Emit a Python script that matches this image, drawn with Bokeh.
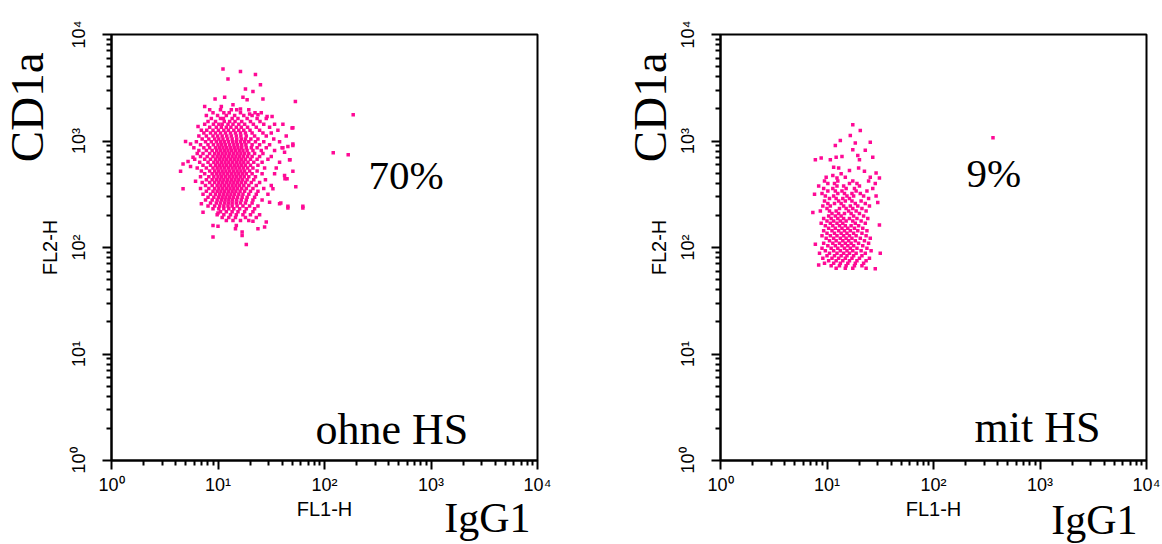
from bokeh.plotting import figure
from bokeh.layouts import row
from bokeh.models import FixedTicker, Label, Range1d, Title
from bokeh.embed import file_html
from bokeh.resources import INLINE

# ---------------- data (FACS 1024-channel, 4-decade log scale: value = 10**(ch/256)) -------------
decade_values = [1, 10, 100, 1000, 10000]
decade_labels = ["10⁰", "10¹", "10²", "10³", "10⁴"]

# "ohne HS" panel: scattered events (FL1-H channel, FL2-H channel)
ohne_sparse = [
    (268, 941), (310, 935), (346, 928), (280, 917), (358, 903), (322, 893), (340, 887), (249, 869),
    (272, 873), (316, 873), (326, 867), (364, 869), (442, 863), (224, 851), (264, 851), (292, 855),
    (310, 845), (332, 833), (352, 831), (374, 827), (386, 827), (412, 808), (434, 799), (208, 803),
    (178, 767), (190, 761), (196, 729), (184, 719), (172, 713), (166, 695), (190, 707), (436, 761),
    (424, 755), (416, 741), (428, 723), (436, 695), (416, 685), (422, 677), (172, 653), (202, 671),
    (460, 611), (424, 611), (404, 617), (388, 653), (380, 621), (220, 597), (256, 595), (216, 617),
    (244, 565), (256, 563), (298, 557), (314, 549), (324, 519), (314, 541), (352, 557), (368, 561),
    (372, 573), (340, 575), (244, 537), (300, 565), (581, 831), (533, 740), (569, 735), (460, 607),
    (436, 800), (436, 757), (412, 752), (429, 723), (417, 677), (443, 658), (407, 619), (424, 607),
]
# "ohne HS" panel: dense events grouped by FL2-H channel -> FL1-H channels
ohne_rows = [
    (843, [236, 262, 288, 301, 330]),
    (836, [244, 270, 283, 310, 345, 360]),
    (829, [228, 255, 276, 296, 318, 338]),
    (822, [240, 262, 269, 290, 304, 326, 350, 372]),
    (815, [232, 250, 271, 284, 297, 313, 334, 357]),
    (808, [224, 245, 258, 266, 280, 292, 306, 320, 341, 366, 392]),
    (801, [236, 252, 264, 276, 287, 300, 312, 327, 348, 380]),
    (794, [216, 229, 244, 257, 270, 281, 294, 306, 318, 333, 356, 400]),
    (787, [222, 238, 250, 262, 274, 286, 298, 310, 322, 338, 364, 384]),
    (780, [210, 228, 244, 255, 266, 277, 288, 300, 311, 324, 344, 372, 420]),
    (773, [218, 234, 248, 258, 268, 279, 290, 301, 312, 322, 335, 352, 390]),
    (766, [204, 226, 240, 252, 262, 271, 281, 291, 300, 310, 320, 330, 346, 366, 404]),
    (759, [214, 232, 245, 256, 265, 274, 284, 294, 303, 313, 323, 338, 356, 380]),
    (752, [198, 222, 236, 250, 259, 268, 277, 286, 295, 304, 313, 324, 336, 350, 372, 410]),
    (745, [210, 228, 242, 253, 262, 271, 280, 289, 298, 307, 316, 326, 340, 360, 392]),
    (738, [206, 220, 236, 248, 257, 266, 275, 284, 293, 302, 311, 320, 330, 344, 364]),
    (731, [214, 230, 244, 254, 263, 272, 281, 290, 299, 308, 317, 327, 338, 356, 384]),
    (724, [200, 224, 238, 250, 259, 268, 277, 286, 295, 304, 313, 322, 334, 350, 376]),
    (717, [212, 232, 246, 255, 264, 273, 282, 291, 300, 309, 318, 328, 342, 362, 404]),
    (710, [220, 238, 250, 259, 268, 277, 286, 295, 304, 313, 322, 334, 352]),
    (703, [206, 228, 244, 254, 263, 272, 281, 290, 299, 308, 317, 327, 340, 368, 396]),
    (696, [216, 236, 248, 257, 266, 275, 284, 293, 302, 311, 320, 332, 350]),
    (689, [224, 242, 252, 261, 270, 279, 288, 297, 306, 315, 324, 338, 362, 392]),
    (682, [214, 234, 246, 256, 265, 274, 283, 292, 301, 310, 319, 330, 346]),
    (675, [228, 242, 252, 261, 270, 279, 288, 297, 306, 315, 326, 342, 370]),
    (668, [218, 236, 248, 258, 267, 276, 285, 294, 303, 312, 322, 336, 356]),
    (661, [226, 242, 254, 263, 272, 281, 290, 299, 308, 318, 330, 348, 384]),
    (654, [214, 234, 248, 258, 267, 276, 285, 294, 303, 313, 324, 340, 366]),
    (647, [228, 244, 254, 263, 272, 281, 290, 299, 309, 320, 334, 352]),
    (640, [220, 238, 250, 260, 269, 278, 287, 296, 306, 316, 330, 348, 376]),
    (633, [232, 246, 257, 266, 275, 284, 293, 303, 314, 326, 344]),
    (626, [226, 242, 254, 264, 273, 282, 291, 301, 312, 324, 340, 362]),
    (619, [238, 252, 262, 272, 281, 290, 300, 310, 322, 338]),
    (612, [232, 248, 260, 270, 280, 290, 302, 316, 332, 352]),
    (605, [244, 258, 270, 282, 294, 308, 324, 344]),
    (598, [262, 276, 290, 304, 320, 340]),
    (591, [254, 270, 286, 300, 316, 334, 356]),
    (584, [266, 282, 298, 322, 348]),
    (577, [276, 292, 310, 330]),
]

# "mit HS" panel
mit_sparse = [
    (318, 807), (336, 793), (312, 781), (288, 769), (276, 757), (324, 763), (360, 765), (318, 747),
    (348, 746), (228, 723), (242, 727), (264, 723), (278, 729), (292, 731), (330, 733), (334, 723),
    (366, 729), (272, 705), (284, 703), (310, 697), (332, 703), (346, 695), (374, 691), (254, 681),
    (270, 685), (280, 679), (290, 689), (300, 681), (360, 681), (382, 679), (655, 776),
    (226, 640), (378, 620), (222, 596), (382, 566), (228, 520), (384, 498), (236, 470), (372, 461),
]
mit_rows = [
    (672, [250, 282, 318, 356]),
    (666, [258, 274, 310, 328, 372]),
    (660, [236, 280, 296, 334]),
    (654, [248, 270, 302, 322, 366]),
    (648, [258, 276, 292, 326, 352]),
    (642, [244, 282, 298, 316, 336]),
    (636, [252, 272, 304, 320, 344, 374]),
    (630, [262, 278, 294, 310, 356]),
    (624, [250, 284, 300, 316, 338]),
    (618, [258, 274, 290, 324, 348]),
    (612, [246, 264, 296, 312, 330, 358]),
    (606, [256, 286, 302, 318, 340]),
    (600, [240, 262, 278, 308, 326, 350]),
    (594, [268, 284, 298, 314, 334]),
    (588, [260, 276, 290, 320, 344]),
    (582, [248, 266, 282, 296, 310, 328, 354]),
    (576, [256, 272, 288, 302, 318, 338]),
    (570, [242, 264, 280, 294, 324, 348]),
    (564, [252, 270, 286, 300, 314, 332]),
    (558, [260, 276, 292, 306, 322, 342]),
    (552, [248, 268, 284, 298, 312, 330, 352]),
    (546, [256, 274, 290, 304, 320, 340]),
    (540, [244, 264, 280, 296, 310, 326, 350]),
    (534, [254, 272, 288, 302, 316, 336, 360]),
    (528, [262, 278, 294, 308, 324, 346]),
    (522, [248, 270, 286, 300, 314, 332, 356]),
    (516, [258, 276, 292, 306, 320, 342]),
    (510, [244, 266, 282, 298, 312, 328, 352]),
    (504, [252, 272, 288, 304, 318, 338, 362]),
    (498, [238, 262, 280, 296, 310, 326, 348]),
    (492, [256, 274, 290, 304, 320, 340]),
    (486, [246, 268, 284, 300, 316, 334, 358]),
    (480, [260, 278, 294, 310, 328, 350]),
    (474, [250, 272, 288, 306, 324, 344]),
    (468, [266, 286, 302, 322, 340]),
    (462, [278, 300, 318, 350]),
]

PINK = "#ff0a96"
SERIF = "Liberation Serif"
SANS = "Liberation Sans"


def events_to_values(sparse, rows):
    ch = list(sparse) + [(cx, cy) for cy, cxs in rows for cx in cxs]
    fl1 = [10 ** (cx / 256.0) for cx, _ in ch]
    fl2 = [10 ** (cy / 256.0) for _, cy in ch]
    return fl1, fl2


def panel(sparse, rows, pct, cond, left, right, top, bottom, pos):
    p = figure(x_axis_type="log", y_axis_type="log",
               x_range=Range1d(1, 10000), y_range=Range1d(1, 10000),
               frame_width=426, frame_height=426,
               min_border_left=left, min_border_right=right,
               min_border_top=top, min_border_bottom=bottom,
               output_backend="svg", toolbar_location=None,
               background_fill_color="white", border_fill_color="white")
    p.grid.visible = False
    p.outline_line_color = "black"
    p.outline_line_width = 2
    p.outline_line_alpha = 1.0

    fl1, fl2 = events_to_values(sparse, rows)
    p.scatter(fl1, fl2, marker="square", size=3.5, fill_color=PINK,
              line_color=None)

    minor = [m * d for d in decade_values[:-1] for m in range(2, 10)]
    overrides = {v: lab for v, lab in zip(decade_values, decade_labels)}
    for ax in (p.xaxis[0], p.yaxis[0]):
        ax.ticker = FixedTicker(ticks=decade_values, minor_ticks=minor)
        ax.major_label_overrides = overrides
        ax.axis_line_width = 2
        ax.axis_line_color = "black"
        ax.major_tick_line_width = 2
        ax.minor_tick_line_width = 2
        ax.major_tick_out = 9
        ax.major_tick_in = 0
        ax.minor_tick_out = 5
        ax.minor_tick_in = 0
        ax.major_label_text_font = SANS
        ax.major_label_text_font_size = "18px"
        ax.major_label_text_color = "black"
        ax.axis_label_text_font = SANS
        ax.axis_label_text_font_size = "20px"
        ax.axis_label_text_font_style = "normal"
        ax.axis_label_text_color = "black"
    p.xaxis.axis_label = "FL1-H"
    p.yaxis.axis_label = "FL2-H"
    p.xaxis.major_label_standoff = 5
    p.xaxis.axis_label_standoff = 0
    p.yaxis.major_label_orientation = "vertical"
    p.yaxis.major_label_standoff = 14
    p.yaxis.axis_label_standoff = 5

    def lab(text, x, y, size):
        p.add_layout(Label(x=x, y=y, x_units="screen", y_units="screen", text=text,
                           text_font=SERIF, text_font_size=size, text_color="black",
                           text_align="left", text_baseline="alphabetic"))

    lab(pct, pos["pct"][0], pos["pct"][1], "41px")
    lab(cond, pos["cond"][0], pos["cond"][1], "44px")

    p.add_layout(Title(text="CD1a", align="right", offset=pos["cd_offset"],
                       vertical_align="bottom", standoff=pos["cd_standoff"],
                       text_font=SERIF, text_font_size="47px", text_font_style="normal",
                       text_color="black"), "left")
    p.add_layout(Title(text="IgG1", align="right", offset=pos["igg_offset"],
                       vertical_align="top", standoff=pos["igg_standoff"],
                       text_font=SERIF, text_font_size="42px", text_font_style="normal",
                       text_color="black"), "below")
    return p


p1 = panel(ohne_sparse, ohne_rows, "70%", "ohne HS", 111, 63, 32, 86,
           {"pct": (257, 286), "cond": (204, 31),
            "cd_offset": 18, "cd_standoff": -34, "igg_offset": 7, "igg_standoff": -56})
p2 = panel(mit_sparse, mit_rows, "9%", "mit HS", 120, 16, 34, 84,
           {"pct": (246, 288), "cond": (254, 33),
            "cd_offset": 18, "cd_standoff": -62, "igg_offset": 9, "igg_standoff": -52})

layout = row(p1, p2)
open("out.html", "w").write(file_html(layout, INLINE))
